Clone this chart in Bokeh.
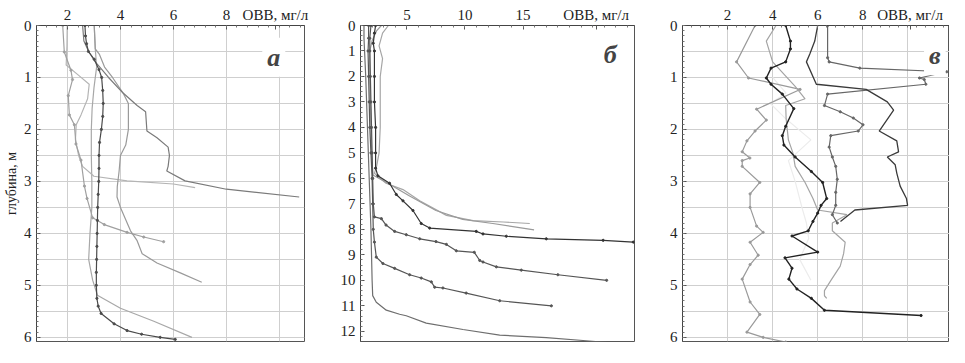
import numpy as np
from bokeh.plotting import figure
from bokeh.layouts import row
from bokeh.models import Range1d, FixedTicker, Label
from bokeh.embed import file_html
from bokeh.resources import INLINE

FONT = "Liberation Serif"
XLABEL = "ОВВ, мг/л"
YLABEL = "глубина, м"

# ---------------- panel а : depth (m) / ОВВ (mg/l) ----------------
A_XTICKS = [2, 4, 6, 8]
A_YTICKS = [0, 1, 2, 3, 4, 5, 6]
a1_d = [0, 0.2, 0.35, 0.5, 0.65, 0.85, 1.0, 1.25, 1.5, 1.75, 2.0, 2.25, 2.5, 2.75, 3.0, 3.25, 3.5, 3.75, 4.0, 4.25, 4.5, 4.75, 5.0, 5.25, 5.4, 5.54, 5.74, 5.87, 5.94, 6.0, 6.04]
a1_v = [2.66, 2.68, 2.72, 2.79, 3.01, 3.19, 3.29, 3.33, 3.35, 3.33, 3.28, 3.21, 3.19, 3.19, 3.18, 3.16, 3.14, 3.13, 3.12, 3.11, 3.10, 3.09, 3.09, 3.11, 3.16, 3.27, 3.76, 4.25, 4.8, 5.5, 6.07]
a2_d = [0, 0.3, 0.5, 0.7, 1.0, 1.3, 1.54, 1.66, 2.03, 2.16, 2.34, 2.5, 2.71, 2.8, 2.99, 3.15, 3.3]
a2_v = [2.57, 2.62, 2.8, 3.05, 3.55, 4.1, 4.63, 4.95, 5.0, 5.38, 5.8, 5.85, 5.8, 5.75, 6.44, 8.0, 10.75]
a3_d = [0, 0.45, 0.55, 0.8, 1.0, 1.3, 1.5, 2.0, 2.3, 2.5, 2.8, 3.1, 3.3, 3.5, 3.95, 4.14, 4.39, 4.57, 4.76, 4.94]
a3_v = [3.01, 3.05, 3.2, 3.4, 3.7, 4.1, 4.3, 4.3, 4.2, 4.0, 3.95, 3.88, 3.87, 4.0, 4.38, 4.63, 4.82, 5.38, 6.26, 7.07]
a4_d = [0, 0.51, 0.86, 1.04, 1.35, 1.72, 1.91, 2.28, 2.59, 3.09, 3.33, 3.7, 3.83, 3.98, 4.07, 4.16]
a4_v = [1.82, 1.88, 2.13, 2.19, 2.03, 2.07, 2.26, 2.32, 2.51, 2.64, 2.74, 2.95, 3.39, 4.25, 4.88, 5.63]
a5_d = [0, 0.4, 0.76, 0.95, 1.13, 1.41, 1.72, 1.91, 2.2, 2.5, 2.71, 2.9, 2.99, 3.05, 3.12]
a5_v = [1.99, 1.98, 1.95, 2.4, 2.82, 2.76, 2.51, 2.33, 2.3, 2.42, 2.57, 3.0, 4.25, 6.0, 6.82]
a6_d = [0, 0.45, 0.8, 1.2, 1.6, 2.0, 2.5, 3.0, 3.5, 4.0, 4.5, 4.9, 5.19, 5.44, 5.69, 6.0]
a6_v = [3.01, 3.05, 3.1, 3.0, 2.93, 2.9, 2.9, 2.92, 2.92, 2.85, 2.8, 2.95, 3.13, 4.0, 5.26, 6.7]

# ---------------- panel б ----------------
B_XTICKS = [5, 10, 15]
B_YTICKS = list(range(0, 13))
b1_d = [0, 0.3, 0.8, 1.3, 2, 3, 4, 5, 5.5, 5.8, 6.19, 6.44, 6.88, 7.45, 7.66, 7.71, 7.77]
b1_v = [3.4, 2.9, 2.6, 2.9, 2.7, 2.7, 2.7, 2.6, 2.4, 2.2, 3.2, 4.66, 6.1, 8.4, 10.7, 13.3, 15.58]
b2_d = [0, 0.2, 0.6, 1, 2, 3, 4, 5, 5.87, 6.31, 6.69, 7.26, 7.61, 7.77, 8.02]
b2_v = [2.8, 2.4, 2.0, 1.8, 1.8, 1.85, 1.9, 1.95, 2.07, 3.8, 5.23, 7.5, 9.8, 12.4, 15.95]
b3_d = [0, 0.3, 0.7, 1, 2, 3, 4, 5, 5.6, 5.9, 6.19, 6.63, 6.88, 7.26, 7.77, 7.95, 8.08, 8.18, 8.27, 8.37, 8.43, 8.5]
b3_v = [2.3, 2.2, 2.1, 2.2, 2.2, 2.2, 2.3, 2.3, 2.3, 2.5, 3.5, 4.08, 4.66, 5.52, 6.23, 6.96, 10.97, 11.55, 13.56, 17.0, 21.9, 24.5]
b4_d = [0, 0.5, 1, 2, 3, 4, 5, 6, 7, 7.51, 7.58, 7.83, 8.08, 8.21, 8.37, 8.48, 8.59, 8.84, 8.9, 9.22, 9.28, 9.47, 9.6, 9.78, 10.0]
b4_v = [1.9, 1.8, 1.8, 1.85, 1.9, 1.95, 2.0, 2.05, 2.1, 2.2, 2.8, 3.2, 3.94, 4.94, 6.1, 7.5, 8.4, 9.25, 10.8, 11.27, 11.55, 12.7, 14.85, 18.0, 22.2]
b5_d = [0, 0.5, 1, 2, 3, 4, 5, 6, 7, 8, 8.5, 9.09, 9.34, 9.53, 9.78, 9.91, 10.06, 10.27, 10.3, 10.5, 10.8, 11.0]
b5_v = [1.7, 1.7, 1.65, 1.7, 1.75, 1.8, 1.9, 2.0, 2.05, 2.1, 2.2, 2.36, 2.93, 3.94, 5.23, 6.23, 7.1, 7.39, 8.1, 10.1, 12.99, 17.44]
b6_d = [0, 0.5, 1, 2, 4, 6, 8, 10, 10.6, 10.86, 11.17, 11.33, 11.39, 11.68, 11.93, 12.15, 12.25, 12.38, 12.45]
b6_v = [1.3, 1.3, 1.35, 1.45, 1.6, 1.75, 1.9, 2.0, 2.05, 2.36, 3.22, 4.37, 4.94, 6.66, 9.83, 12.99, 17.0, 20.7, 22.5]

# ---------------- panel в ----------------
C_XTICKS = [2, 4, 6, 8]
C_YTICKS = [0, 1, 2, 3, 4, 5, 6]
c1_d = [0, 0.7, 1.01, 1.23, 1.61, 1.82, 2.03, 2.22, 2.43, 2.55, 2.6, 2.71, 3.02, 3.24, 3.5, 3.86, 3.98, 4.17, 4.42, 4.6, 4.88, 5.32, 5.56, 5.9, 6.0, 6.09]
c1_v = [3.22, 2.4, 2.93, 5.22, 3.29, 3.72, 3.22, 2.86, 2.65, 2.99, 2.65, 2.65, 3.43, 3.0, 3.0, 3.29, 3.58, 3.0, 3.36, 3.0, 2.65, 3.0, 3.43, 2.86, 3.58, 4.58]
c2_d = [0, 0.3, 0.45, 0.7, 0.82, 1.01, 1.13, 1.32, 1.6, 1.94, 2.12, 2.3, 2.53, 2.81, 3.02, 3.33, 3.46, 3.61, 3.77, 3.95, 4.05, 4.36, 4.47, 4.67, 4.88, 5.07, 5.25, 5.48, 5.58]
c2_v = [4.58, 4.79, 4.79, 4.58, 3.93, 3.72, 3.93, 4.43, 4.94, 4.58, 4.43, 4.5, 5.0, 5.72, 6.22, 6.4, 6.15, 6.0, 5.79, 5.58, 4.86, 6.0, 4.55, 4.86, 4.72, 5.08, 5.72, 6.3, 10.59]
c3_d = [0, 0.3, 0.55, 0.7, 1.13, 1.23, 1.47, 1.63, 2.03, 2.22, 2.43, 2.53, 2.68, 2.84, 3.09, 3.33, 3.46, 3.55, 3.77]
c3_v = [6.0, 5.87, 5.65, 5.5, 5.94, 8.15, 9.09, 9.37, 8.73, 9.51, 9.59, 9.09, 9.44, 9.51, 9.66, 9.94, 9.99, 7.65, 7.01]
c4_d = [0, 0.62, 0.7, 0.82, 0.89, 1.01, 1.04, 1.13, 1.32, 1.54, 1.66, 1.78, 1.91, 2.03, 2.12, 2.34, 2.53, 2.71, 2.96, 3.21, 3.46, 3.64, 3.8]
c4_v = [6.44, 6.44, 6.51, 7.87, 11.73, 10.52, 10.73, 10.8, 6.44, 6.3, 7.0, 7.58, 8.01, 7.8, 6.58, 6.51, 6.65, 6.8, 6.87, 6.8, 6.8, 6.65, 6.87]
c5_d = [0, 0.3, 0.7, 1.17, 1.41, 1.54, 1.8, 2.2, 2.45, 2.71, 3.02, 3.33, 3.55, 3.64, 3.8, 3.95, 4.17, 4.39, 4.63, 4.91, 5.1, 5.2, 5.25]
c5_v = [4.15, 3.72, 4.0, 5.0, 5.44, 4.58, 4.6, 4.7, 4.9, 5.0, 5.44, 5.79, 6.0, 7.3, 6.65, 6.65, 7.22, 7.15, 7.0, 6.58, 6.3, 6.3, 6.4]
c6_d = [1.0, 1.3, 1.5, 1.8, 2.2, 2.6, 3.0, 3.5, 3.8, 4.1, 4.5, 4.9]
c6_v = [4.0, 4.6, 3.9, 4.6, 5.7, 4.7, 5.0, 5.3, 5.5, 5.6, 5.2, 5.7]


def panel(width, bl, br, xr, yr, xticks, xminor_step, xlab_pos, yticks, yminor_step,
          grid, letter, letter_xy, ylabel=None):
    p = figure(width=width, height=347, x_range=Range1d(*xr), y_range=Range1d(yr, 0),
               x_axis_location="above", output_backend="svg", toolbar_location=None,
               min_border_left=bl, min_border_right=br, min_border_top=25, min_border_bottom=6)
    p.outline_line_color = "#555555"
    p.outline_line_width = 1
    p.background_fill_color = "white"
    xa = p.xaxis[0]
    ticks = list(xticks) + [xlab_pos]
    minor = [round(v, 4) for v in np.arange(xr[0] - (xr[0] % xminor_step), xr[1], xminor_step)]
    xa.ticker = FixedTicker(ticks=ticks, minor_ticks=minor)
    xa.major_label_overrides = {xlab_pos: XLABEL}
    ya = p.yaxis[0]
    yminor = [round(v, 4) for v in np.arange(0, yr, yminor_step)]
    ya.ticker = FixedTicker(ticks=list(yticks), minor_ticks=yminor)
    for ax in (xa, ya):
        ax.major_label_text_font = FONT
        ax.major_label_text_font_size = "15px"
        ax.major_label_text_color = "#222222"
        ax.axis_line_color = "#444444"
        ax.major_tick_in = 4
        ax.major_tick_out = 0
        ax.minor_tick_in = 2
        ax.minor_tick_out = 0
        ax.major_tick_line_color = "#555555"
        ax.minor_tick_line_color = "#777777"
    xa.major_label_standoff = 3
    ya.major_label_standoff = 5
    if ylabel:
        ya.axis_label = ylabel
        ya.axis_label_text_font = FONT
        ya.axis_label_text_font_size = "14px"
        ya.axis_label_text_font_style = "normal"
        ya.axis_label_text_color = "#222222"
        ya.axis_label_standoff = 2
    if grid:
        p.xgrid.ticker = FixedTicker(ticks=[2, 4, 6, 8, 10])
        p.ygrid.ticker = FixedTicker(ticks=[round(v, 2) for v in np.arange(0.5, yr, 0.5)])
        p.xgrid.grid_line_color = "#cfcfcf"
        p.ygrid.grid_line_color = "#cfcfcf"
    else:
        p.xgrid.grid_line_color = None
        p.ygrid.grid_line_color = None
    p.add_layout(Label(x=letter_xy[0], y=letter_xy[1], text=letter, text_font=FONT,
                       text_font_style="bold italic", text_font_size="26px",
                       text_align="center", text_baseline="alphabetic",
                       background_fill_color="white", padding=5))
    return p


def draw(p, v, d, color, width=1.2, markers=False):
    p.line(v, d, line_color=color, line_width=width)
    if markers:
        p.scatter(v, d, size=2.2, color=color)


pa = panel(314, 34, 10, (0.83, 10.95), 6.08, A_XTICKS, 0.4, 9.85, A_YTICKS, 0.1,
           True, "а", (9.79, 0.61), ylabel=YLABEL)
draw(pa, a6_v, a6_d, "#a8a8a8")
draw(pa, a5_v, a5_d, "#b4b4b4")
draw(pa, a4_v, a4_d, "#a0a0a0", markers=True)
draw(pa, a3_v, a3_d, "#9a9a9a")
draw(pa, a2_v, a2_d, "#7a7a7a")
draw(pa, a1_v, a1_d, "#4a4a4a", markers=True)

pb = panel(323, 46, 3, (1.0, 24.6), 12.4, B_XTICKS, 1.0, 21.3, B_YTICKS, 0.2,
           False, "б", (22.5, 1.14))
draw(pb, b6_v, b6_d, "#6e6e6e")
draw(pb, b1_v, b1_d, "#a6a6a6")
draw(pb, b2_v, b2_d, "#9a9a9a")
draw(pb, b5_v, b5_d, "#555555", markers=True)
draw(pb, b4_v, b4_d, "#555555", markers=True)
draw(pb, b3_v, b3_d, "#333333", markers=True)

pc = panel(312, 45, 0, (0.0, 11.85), 6.08, C_XTICKS, 0.4, 10.1, C_YTICKS, 0.1,
           True, "в", (11.2, 0.58))
draw(pc, c6_v, c6_d, "#ececec")
draw(pc, c1_v, c1_d, "#9a9a9a", markers=True)
draw(pc, c5_v, c5_d, "#a4a4a4")
draw(pc, c4_v, c4_d, "#666666", markers=True)
draw(pc, c3_v, c3_d, "#3a3a3a", width=1.3)
draw(pc, c2_v, c2_d, "#222222", width=1.4, markers=True)

layout = row(pa, pb, pc)
open("out.html", "w").write(file_html(layout, INLINE))
